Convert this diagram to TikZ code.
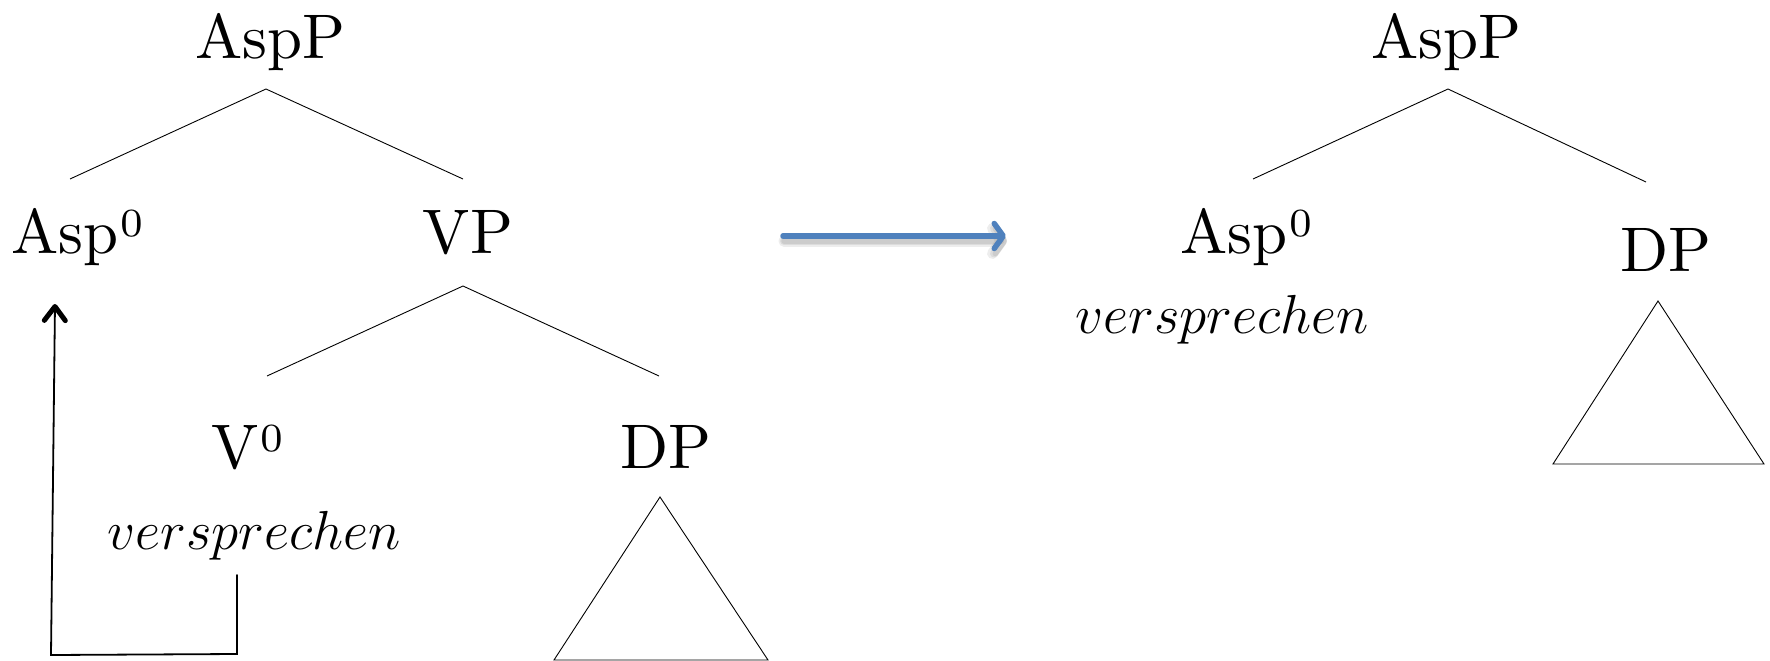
\RequirePackage{fix-cm}
\documentclass[tikz,border=0pt]{standalone}
\usepackage{fontspec}
\setmainfont{lmroman10-regular.otf}
\newfontfamily\supfont{lmroman7-regular.otf}
\usetikzlibrary{arrows.meta}
\definecolor{arrowblue}{RGB}{79,129,189}
\newcommand{\zerosup}{\kern2pt\raisebox{17pt}{\supfont\fontsize{40}{40}\selectfont 0}}
\newcommand{\vword}{{\fontsize{55}{60}\selectfont$versprechen$}}
\begin{document}
\begin{tikzpicture}[x=1pt,y=-1pt,
  font=\fontsize{63}{70}\selectfont,
  cat/.style={inner sep=0pt, anchor=base},
  catw/.style={inner sep=0pt, anchor=base west},
  branch/.style={line width=0.9pt, black},
  movearrow/.style={line width=1.8pt, black, line cap=round,
    -{Straight Barb[length=14pt,width=21pt,line width=5pt,round]}},
  bigarrow/.style={line width=5.5pt, arrowblue, line cap=round,
    -{Straight Barb[length=9pt,width=25pt,line width=5.5pt,round]}},
  arrowshade/.style={line width=#1, black, opacity=0.07, line cap=round,
    -{Straight Barb[length=9pt,width=25pt,line width=#1,round]}}]
\useasboundingbox (0,0) rectangle (1770,661);

% ---- left tree ----
\node[cat]  (aspP)  at (270,59)  {AspP};
\node[catw] (asp)   at (11,253)  {Asp\zerosup};
\node[cat]  (vp)    at (468,253) {VP};
\node[catw] (v)     at (211,468) {V\zerosup};
\node[cat]  (dp)    at (666,468) {DP};
\node[cat]  (verb)  at (254,549) {\vword};

\coordinate (aspPb) at (266,89);
\coordinate (aspt)  at (70,179);
\coordinate (vpt)   at (463,179);
\coordinate (vpb)   at (463,286);
\coordinate (vt)    at (267,376);
\coordinate (dpt)   at (659,376);
\draw[branch] (aspt) -- (aspPb) -- (vpt);
\draw[branch] (vt) -- (vpb) -- (dpt);

\coordinate (triA) at (660,497);
\coordinate (triB) at (554,660);
\coordinate (triC) at (768,660);
\draw[branch, line join=miter] (triA) -- (triB) -- (triC) -- cycle;

% head movement of the verb
\coordinate (trace)  at (237,575);
\coordinate (bendR)  at (237,654);
\coordinate (bendL)  at (51,655);
\coordinate (landing) at (55,304);
\draw[movearrow] (trace) -- (bendR) -- (bendL) -- (landing);

% ---- transition: soft drop shadow, then the arrow ----
\coordinate (arrS) at (783,236);
\coordinate (arrE) at (1006,236);
\foreach \w in {11pt,8pt,5.5pt}
  \draw[arrowshade=\w] ([shift={(1,5)}]arrS) -- ([shift={(1,5)}]arrE);
\draw[bigarrow] (arrS) -- (arrE);

% ---- right tree ----
\node[cat]  (aspP2) at (1446,59)  {AspP};
\node[catw] (asp2)  at (1180,253) {Asp\zerosup};
\node[cat]  (verb2) at (1222,333) {\vword};
\node[cat]  (dp2)   at (1666,271) {DP};

\coordinate (aspP2b) at (1448,89);
\coordinate (asp2t)  at (1253,179);
\coordinate (dp2t)   at (1646,182);
\draw[branch] (asp2t) -- (aspP2b) -- (dp2t);

\coordinate (tri2A) at (1658,301);
\coordinate (tri2B) at (1553,464);
\coordinate (tri2C) at (1764,464);
\draw[branch, line join=miter] (tri2A) -- (tri2B) -- (tri2C) -- cycle;
\end{tikzpicture}
\end{document}
